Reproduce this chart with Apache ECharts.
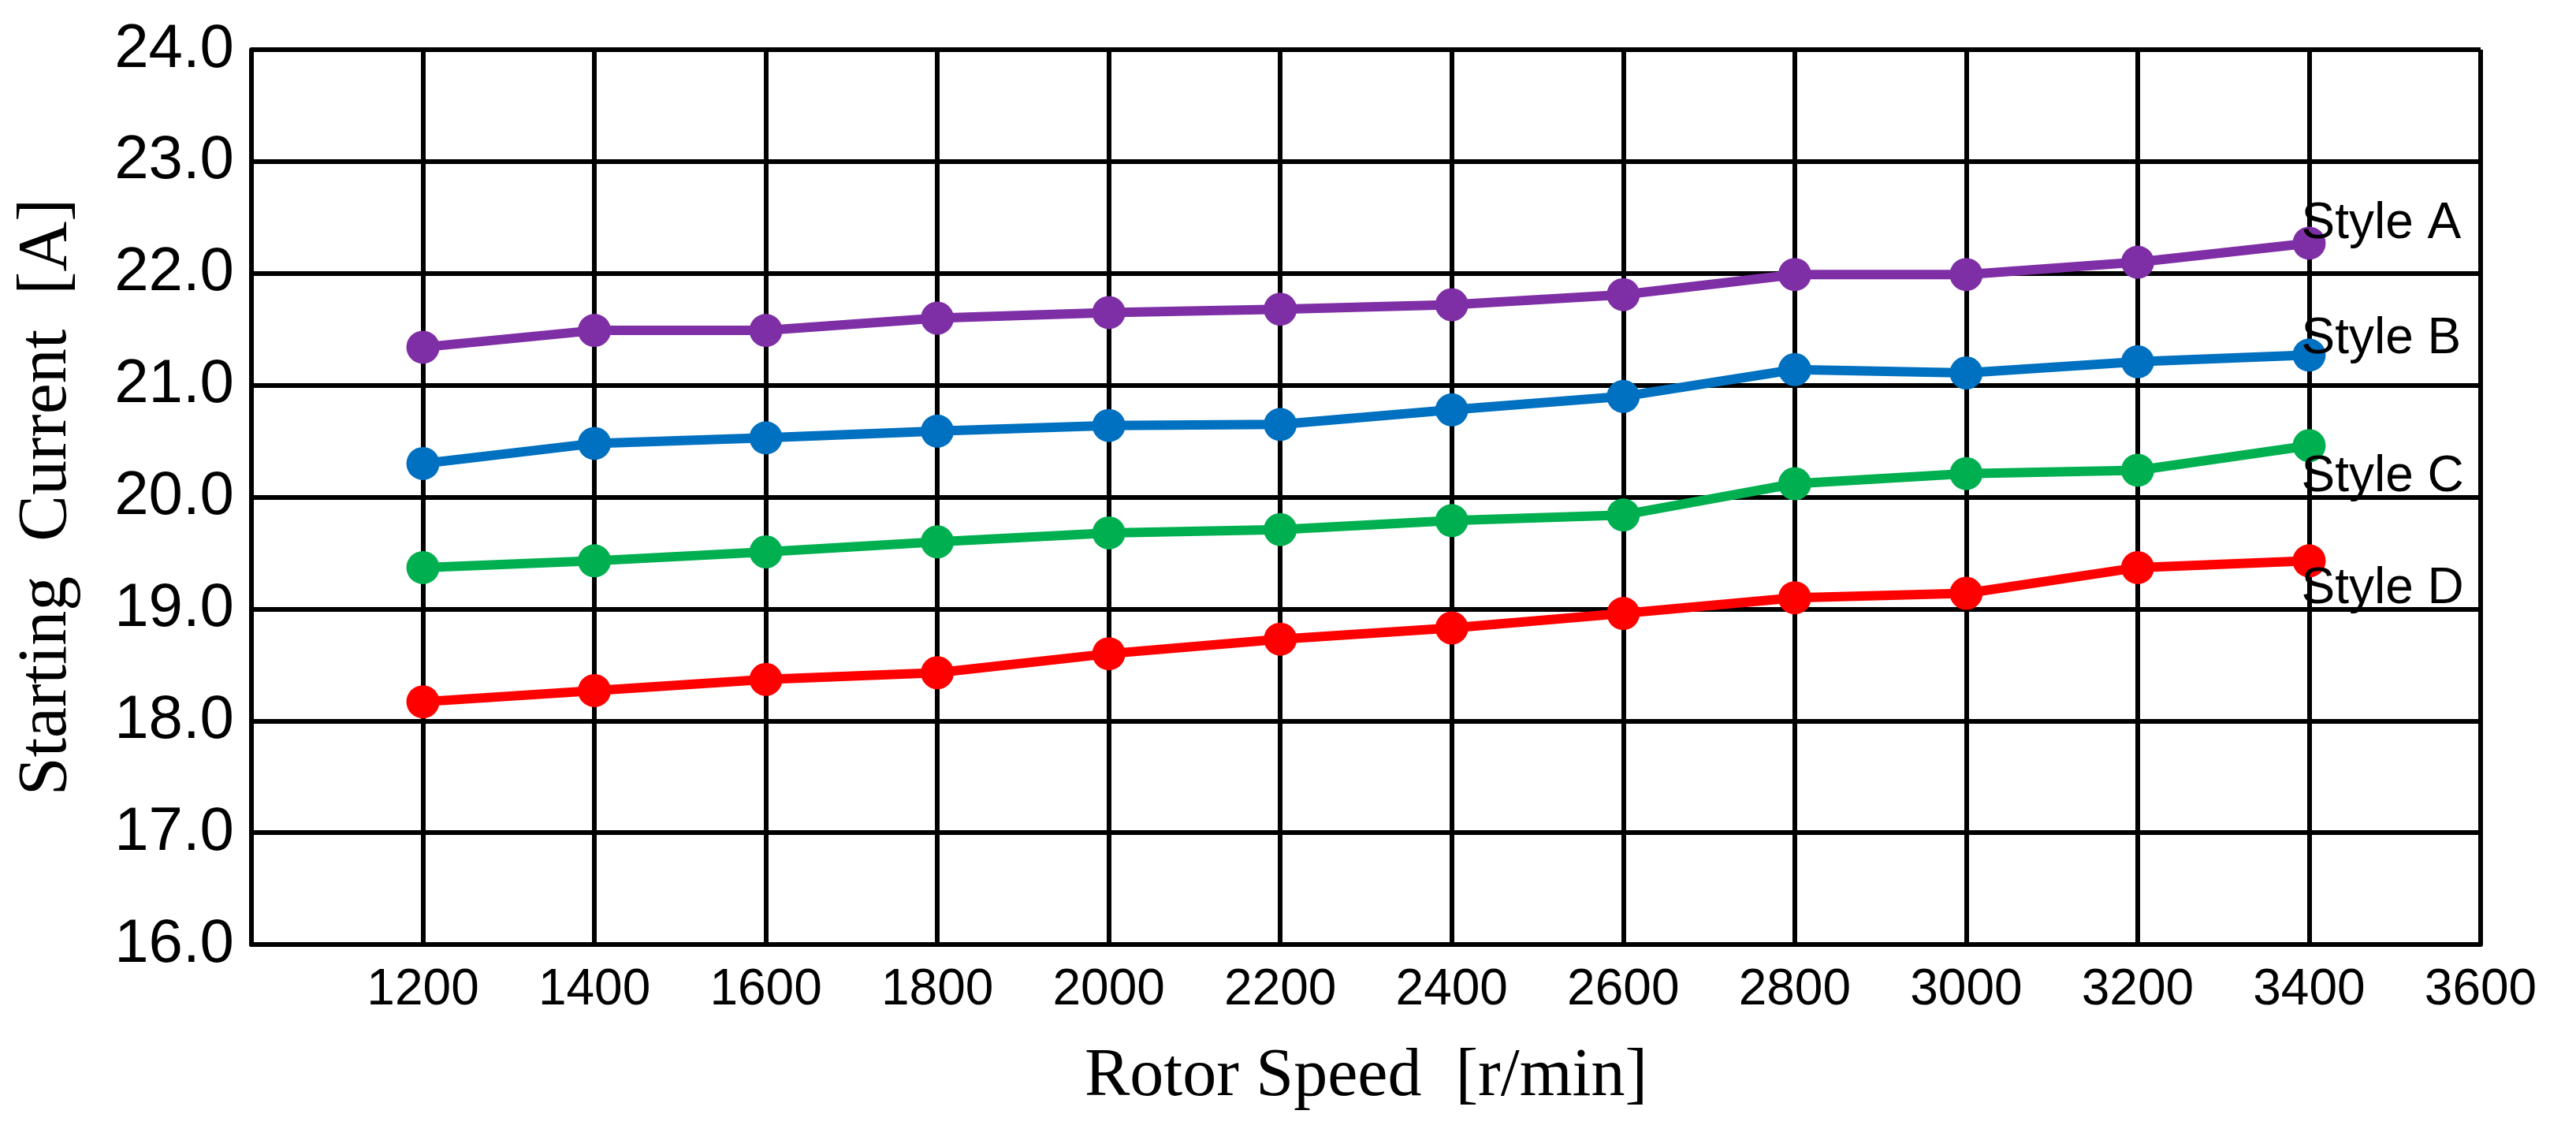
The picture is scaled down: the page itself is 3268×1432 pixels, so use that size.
<!DOCTYPE html>
<html><head><meta charset="utf-8">
<script src="https://cdn.jsdelivr.net/npm/echarts@6/dist/echarts.min.js"></script>
<style>html,body{margin:0;background:#fff}#c{width:3268px;height:1432px}</style>
</head><body><div id="c"></div>
<script>
// rotor speed vs starting current, four rotor styles
const speeds = [1200,1400,1600,1800,2000,2200,2400,2600,2800,3000,3200,3400];
const styleA = [21.34,21.49,21.49,21.60,21.65,21.68,21.72,21.81,21.99,21.99,22.10,22.27];
const styleB = [20.30,20.48,20.53,20.59,20.64,20.65,20.78,20.90,21.14,21.11,21.21,21.27];
const styleC = [19.37,19.43,19.51,19.60,19.68,19.71,19.79,19.84,20.12,20.21,20.24,20.46];
const styleD = [18.17,18.27,18.37,18.43,18.60,18.73,18.83,18.96,19.10,19.14,19.37,19.43];
const names = ['Style A','Style B','Style C','Style D'];
const colors = ['#7F2FA5','#0070C0','#00B050','#FF0000'];
const labelDy = [-24,-20,40,36];

const pair = v => speeds.map((s,i)=>[s,v[i]]);
const series = [styleA,styleB,styleC,styleD].map((v,k)=>({
  name:names[k], type:'line', data:pair(v), symbol:'circle', symbolSize:42,
  lineStyle:{width:12,color:colors[k]}, itemStyle:{color:colors[k]},
  endLabel:{show:true,formatter:names[k],color:'#000',fontFamily:'Liberation Sans',fontSize:64,
    distance:0,offset:[-10,labelDy[k]]},
  animation:false
}));

const c = echarts.init(document.getElementById('c'));
const line = {lineStyle:{color:'#000',width:6}};
c.setOption({
  grid:{left:319,right:121,top:63,bottom:234},
  xAxis:{type:'value',min:1000,max:3600,interval:200,
    axisLine:{show:true,...line},axisTick:{show:false},splitLine:{show:true,...line},
    axisLabel:{fontFamily:'Liberation Sans',fontSize:64,color:'#000',margin:26,
      formatter:v=>v===1000?'':String(v)},
    name:'Rotor Speed  [r/min]',nameLocation:'middle',nameGap:125,
    nameTextStyle:{fontFamily:'Liberation Serif',fontSize:86,color:'#000'}},
  yAxis:{type:'value',min:16,max:24,interval:1,
    axisLine:{show:true,...line},axisTick:{show:false},splitLine:{show:true,...line},
    axisLabel:{fontFamily:'Liberation Sans',fontSize:78,color:'#000',margin:22,formatter:v=>v.toFixed(1)},
    name:'Starting  Current  [A]',nameLocation:'middle',nameGap:215,
    nameTextStyle:{fontFamily:'Liberation Serif',fontSize:88,color:'#000'}},
  series
});
</script></body></html>
